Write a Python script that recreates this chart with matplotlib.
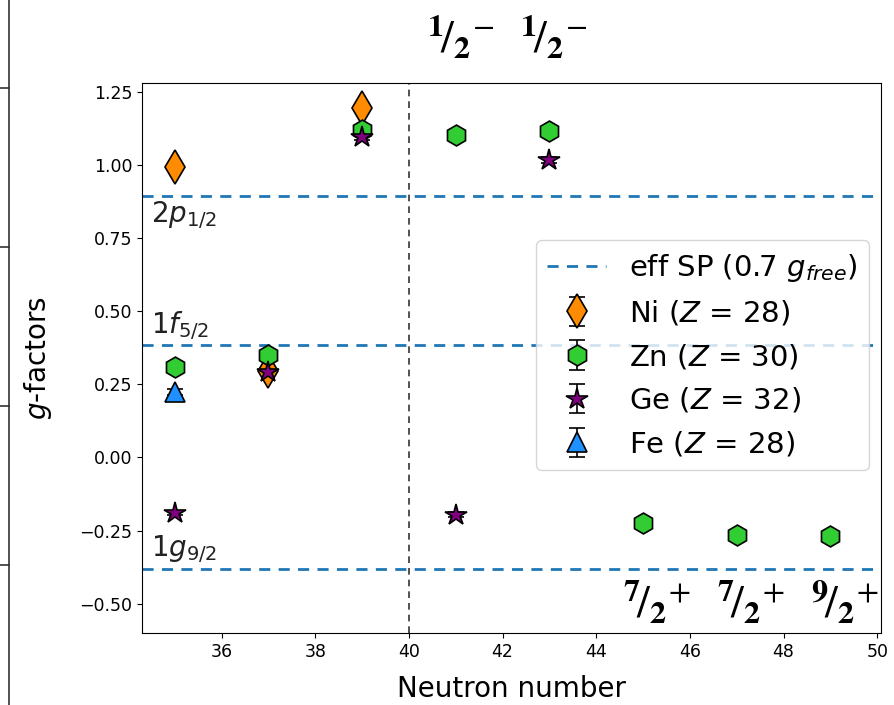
import matplotlib
matplotlib.use("Agg")
import matplotlib.pyplot as plt
from matplotlib.lines import Line2D

# Measured g-factors vs neutron number
ni_n = [35, 37, 39]
ni_g = [0.994, 0.295, 1.195]
ni_err = [0.010, 0.010, 0.012]

zn_n = [35, 37, 39, 41, 43, 45, 47, 49]
zn_g = [0.310, 0.351, 1.118, 1.102, 1.117, -0.223, -0.264, -0.268]
zn_err = [0.006, 0.006, 0.008, 0.006, 0.006, 0.005, 0.005, 0.005]

ge_n = [35, 37, 39, 41, 43]
ge_g = [-0.190, 0.293, 1.096, -0.196, 1.018]
ge_err = [0.008, 0.012, 0.012, 0.008, 0.010]

fe_n = [35]
fe_g = [0.225]
fe_err = [0.010]

# Effective single-particle values (0.7 g_free)
sp_orbits = [r"$2p_{1/2}$", r"$1f_{5/2}$", r"$1g_{9/2}$"]
sp_values = [0.893, 0.383, -0.380]

# Ground-state spin/parity labels
top_spins = [r"${}^{\mathbf{1}}\!/_{\mathbf{2}}{}^{-}$", r"${}^{\mathbf{1}}\!/_{\mathbf{2}}{}^{-}$"]
top_n = [41, 43]
bottom_spins = [r"${}^{\mathbf{7}}\!/_{\mathbf{2}}{}^{+}$", r"${}^{\mathbf{7}}\!/_{\mathbf{2}}{}^{+}$",
                r"${}^{\mathbf{9}}\!/_{\mathbf{2}}{}^{+}$"]
bottom_n = [45, 47, 49]

W, H = 894, 705
fig = plt.figure(figsize=(W / 100, H / 100), dpi=100)
ax = fig.add_axes([142 / W, 1 - 633 / H, (881 - 142) / W, (633 - 83) / H])

sp_line = None
for v in sp_values:
    sp_line = ax.axhline(v, color="#1f77b4", ls="--", lw=2, dashes=(4, 3))

ax.axvline(40, color="#333333", ls="--", lw=1.2, dashes=(4, 3))

common = dict(ls="none", ecolor="black", elinewidth=1.2, capsize=6, capthick=1.2,
              markeredgecolor="black", markeredgewidth=1.2)
h_ni = ax.errorbar(ni_n, ni_g, yerr=ni_err, marker="d", ms=17, color="darkorange", **common)
h_zn = ax.errorbar(zn_n, zn_g, yerr=zn_err, marker="h", ms=15, color="limegreen", **common)
h_ge = ax.errorbar(ge_n, ge_g, yerr=ge_err, marker="*", ms=16, color="purple", **common)
h_fe = ax.errorbar(fe_n, fe_g, yerr=fe_err, marker="^", ms=15, color="dodgerblue", **common)

ax.set_xlim(34.3, 50.08)
ax.set_ylim(-0.60, 1.28)
ax.set_xticks([36, 38, 40, 42, 44, 46, 48, 50])
ax.set_yticks([-0.5, -0.25, 0, 0.25, 0.5, 0.75, 1.0, 1.25])
ax.tick_params(labelsize=12.5)

ax.set_xlabel("Neutron number", fontsize=20, labelpad=10)
ax.set_ylabel(r"$g$-factors", fontsize=20, labelpad=18)

# Orbit labels next to the single-particle lines
ax.text(34.5, sp_values[0] - 0.012, sp_orbits[0], fontsize=20, va="top", color="#222222")
ax.text(34.5, sp_values[1] + 0.012, sp_orbits[1], fontsize=20, va="bottom", color="#222222")
ax.text(34.5, sp_values[2] + 0.012, sp_orbits[2], fontsize=20, va="bottom", color="#222222")

for n, s in zip(top_n, top_spins):
    ax.text(n + 0.1, 1.43, s, fontsize=33, ha="center", va="center",
            math_fontfamily="stix", clip_on=False)
for n, s in zip(bottom_n, bottom_spins):
    ax.text(n + 0.3, -0.50, s, fontsize=33, ha="center", va="center",
            math_fontfamily="stix")

ax.legend([sp_line, h_ni, h_zn, h_ge, h_fe],
          [r"eff SP (0.7 $g_{free}$)", r"Ni ($Z$ = 28)", r"Zn ($Z$ = 30)",
           r"Ge ($Z$ = 32)", r"Fe ($Z$ = 28)"],
          loc="center right", fontsize=21, framealpha=0.8,
          bbox_to_anchor=(1.0, 0.505), handlelength=2.0, borderaxespad=0.4)

# Edge of the neighbouring panel on the left
fig.add_artist(Line2D([9 / W, 9 / W], [0, 1], color="#333333", lw=1.2))
for ty in [88, 247, 406, 565]:
    fig.add_artist(Line2D([0, 9 / W], [1 - ty / H, 1 - ty / H], color="#333333", lw=1.2))

fig.savefig("out.png", dpi=100)
